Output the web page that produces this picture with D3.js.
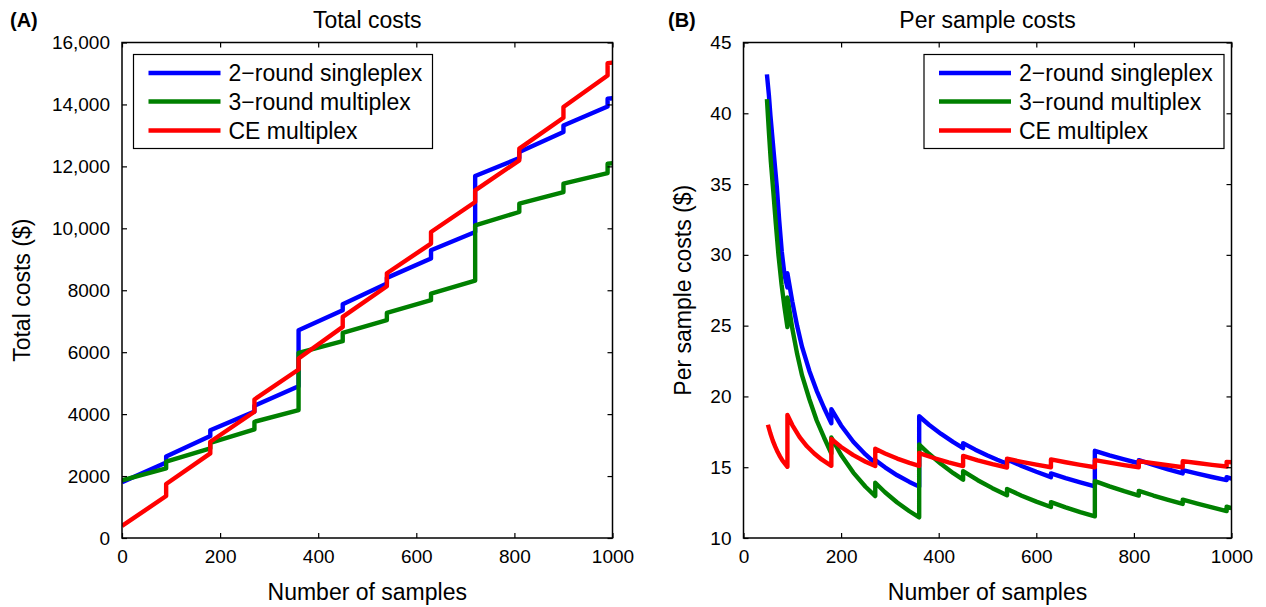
<!DOCTYPE html>
<html>
<head>
<meta charset="utf-8">
<script src="https://cdn.jsdelivr.net/npm/d3@7"></script>
<style>
  html, body { margin: 0; padding: 0; background: #fff; }
  svg text { font-family: "Liberation Sans", Arial, Helvetica, sans-serif; fill: #000; }
</style>
</head>
<body>
<svg id="chart" width="1266" height="607"></svg>
<script>
// ---------------- data ----------------
const sampleTicks = [0, 200, 400, 600, 800, 1000];
const totalTicks = [0, 2000, 4000, 6000, 8000, 10000, 12000, 14000, 16000];
const totalTickLabels = ["0", "2000", "4000", "6000", "8000", "10,000", "12,000", "14,000", "16,000"];
const perSampleTicks = [10, 15, 20, 25, 30, 35, 40, 45];
const perSampleTickLabels = ["10", "15", "20", "25", "30", "35", "40", "45"];

const seriesNames = ["2\u2212round singleplex", "3\u2212round multiplex", "CE multiplex"];
const seriesColors = ["#0000ff", "#008000", "#ff0000"];

// Panel A: total costs ($) vs number of samples
const totalSingleplex2 = [
  [0,1800],[90,2440],[90,2630],[180,3290],[180,3480],[270,4080],[270,4270],[360,4900],
  [360,6710],[450,7355],[450,7548],[540,8220],[540,8400],[630,9023],[630,9290],[720,9881],
  [720,11688],[810,12268],[810,12462],[900,13108],[900,13323],[990,13936],[990,14184],[1000,14200]
];
const totalMultiplex3 = [
  [0,1860],[90,2248],[90,2463],[180,2894],[180,3075],[270,3506],[270,3753],[360,4130],
  [360,5979],[450,6355],[450,6623],[540,7033],[540,7269],[630,7678],[630,7893],[720,8310],
  [720,10097],[810,10527],[810,10797],[900,11172],[900,11442],[990,11785],[990,12088],[1000,12100]
];
const totalCE = [
  [0,390],[90,1355],[90,1742],[180,2732],[180,3108],[270,4075],[270,4474],[360,5441],
  [360,5797],[450,6817],[450,7140],[540,8130],[540,8549],[630,9507],[630,9881],[720,10850],
  [720,11227],[810,12194],[810,12572],[900,13572],[900,13915],[990,14937],[990,15334],[1000,15350]
];

// Panel B: per sample costs ($) vs number of samples
const perSingleplex2 = [
  [48,42.75],[52,41.3],[55.3,39.8],[62,37.2],[68.3,34.8],[73,32.5],[78.5,30.2],[84,28.6],[90,27.7],
  [90,28.7],[100,26.7],[110,24.97],[120,23.5],[135,21.8],[150,20.4],[165,19.2],[180,18.1],
  [180,19.1],[200,17.95],[225,16.8],[250,15.9],[270,15.28],
  [270,15.5],[290,14.99],[315,14.43],[340,13.96],[360,13.63],
  [360,18.6],[380,18.0],[405,17.35],[430,16.77],[450,16.35],
  [450,16.7],[475,16.24],[500,15.83],[520,15.53],[540,15.25],
  [540,15.55],[570,15.09],[600,14.68],[630,14.3],
  [630,14.56],[660,14.23],[690,13.93],[720,13.65],
  [720,16.16],[750,15.84],[780,15.55],[810,15.28],
  [810,15.5],[840,15.16],[870,14.85],[900,14.56],
  [900,14.8],[930,14.55],[960,14.31],[990,14.09],
  [990,14.3],[1000,14.2]
];
const perMultiplex3 = [
  [48,41.0],[52,38.7],[56,36.6],[61,34.5],[66,32.3],[71.6,30.0],[78,27.9],[84,26.3],[90,24.9],
  [90,27.0],[100,24.8],[110,22.99],[120,21.48],[135,19.8],[150,18.3],[165,17.1],[180,15.97],
  [180,17.1],[200,15.86],[225,14.62],[250,13.62],[270,12.96],
  [270,13.9],[290,13.23],[315,12.51],[340,11.89],[360,11.46],
  [360,16.6],[380,15.95],[405,15.22],[430,14.58],[450,14.12],
  [450,14.72],[480,14.08],[510,13.52],[540,13.02],
  [540,13.46],[570,12.99],[600,12.57],[630,12.19],
  [630,12.53],[660,12.16],[690,11.83],[720,11.53],
  [720,14.02],[750,13.65],[780,13.31],[810,13.0],
  [810,13.33],[840,13.0],[870,12.7],[900,12.41],
  [900,12.71],[930,12.43],[960,12.16],[990,11.9],
  [990,12.21],[1000,12.1]
];
const perCE = [
  [50,18.0],[55,17.4],[60,16.88],[65,16.45],[70,16.07],[75,15.75],[80,15.46],[90,15.03],
  [90,18.7],[100,17.98],[115,17.13],[130,16.48],[145,15.97],[160,15.55],[180,15.1],
  [180,17.0],[200,16.43],[225,15.85],[250,15.39],[270,15.08],
  [270,16.3],[290,15.97],[315,15.61],[340,15.31],[360,15.1],
  [360,16.0],[390,15.65],[420,15.34],[450,15.08],
  [450,15.8],[480,15.49],[510,15.22],[540,14.98],
  [540,15.6],[570,15.38],[600,15.18],[630,15.0],
  [630,15.55],[660,15.35],[690,15.17],[720,15.0],
  [720,15.5],[750,15.32],[780,15.15],[810,15.0],
  [810,15.43],[840,15.28],[870,15.14],[900,15.0],
  [900,15.43],[930,15.3],[960,15.17],[990,15.05],
  [990,15.38],[1000,15.35]
];

// ---------------- drawing ----------------
const svg = d3.select("#chart");
svg.append("rect").attr("width", 1266).attr("height", 607).attr("fill", "#fff");

function panel(cfg) {
  const x = d3.scaleLinear().domain([0, 1000]).range([cfg.left, cfg.right]);
  const y = d3.scaleLinear().domain(cfg.yDomain).range([cfg.bottom, cfg.top]);
  const g = svg.append("g");

  const clipId = "clip" + cfg.id;
  svg.append("clipPath").attr("id", clipId).append("rect")
    .attr("x", cfg.left).attr("y", cfg.top)
    .attr("width", cfg.right - cfg.left).attr("height", cfg.bottom - cfg.top);

  const line = d3.line().x(d => x(d[0])).y(d => y(d[1]));
  const lg = g.append("g").attr("clip-path", `url(#${clipId})`);
  cfg.series.forEach((s, i) => {
    lg.append("path").datum(s)
      .attr("d", line)
      .attr("fill", "none")
      .attr("stroke", seriesColors[i])
      .attr("stroke-width", 4.4)
      .attr("stroke-linejoin", "round")
      .attr("stroke-linecap", "butt");
  });

  const tickLen = 5;
  const fmtY = v => cfg.yLabels[cfg.yTicks.indexOf(v)];
  const axB = g.append("g").attr("transform", `translate(0,${cfg.bottom})`)
    .call(d3.axisBottom(x).tickValues(sampleTicks).tickFormat(d3.format("d"))
      .tickSizeInner(-tickLen).tickSizeOuter(0).tickPadding(12));
  const axT = g.append("g").attr("transform", `translate(0,${cfg.top})`)
    .call(d3.axisTop(x).tickValues(sampleTicks).tickFormat("")
      .tickSizeInner(-tickLen).tickSizeOuter(0));
  const axL = g.append("g").attr("transform", `translate(${cfg.left},0)`)
    .call(d3.axisLeft(y).tickValues(cfg.yTicks).tickFormat(fmtY)
      .tickSizeInner(-tickLen).tickSizeOuter(0).tickPadding(12));
  const axR = g.append("g").attr("transform", `translate(${cfg.right},0)`)
    .call(d3.axisRight(y).tickValues(cfg.yTicks).tickFormat("")
      .tickSizeInner(-tickLen).tickSizeOuter(0));
  [axB, axT, axL, axR].forEach(a => {
    a.select(".domain").remove();
    a.selectAll(".tick line").attr("stroke", "#000").attr("stroke-width", 1.2);
    a.selectAll("text").style("font-size", "19px").attr("fill", "#000");
  });
  axB.selectAll("text").attr("dy", "0.71em");

  g.append("rect")
    .attr("x", cfg.left).attr("y", cfg.top)
    .attr("width", cfg.right - cfg.left).attr("height", cfg.bottom - cfg.top)
    .attr("fill", "none").attr("stroke", "#000").attr("stroke-width", 1.5);

  const cx = (cfg.left + cfg.right) / 2;
  g.append("text").attr("x", cx).attr("y", 28).attr("text-anchor", "middle")
    .style("font-size", "23px").text(cfg.title);
  g.append("text").attr("x", cfg.tagX).attr("y", 27)
    .style("font-size", "20px").style("font-weight", "bold").text(cfg.tag);
  g.append("text").attr("x", cx).attr("y", 600).attr("text-anchor", "middle")
    .style("font-size", "23px").text("Number of samples");
  g.append("text")
    .attr("transform", `translate(${cfg.yLabelX},${(cfg.top + cfg.bottom) / 2}) rotate(-90)`)
    .attr("text-anchor", "middle")
    .style("font-size", "23px").text(cfg.yTitle);

  const L = cfg.legend;
  const leg = g.append("g");
  leg.append("rect").attr("x", L.x).attr("y", L.y).attr("width", L.w).attr("height", L.h)
    .attr("fill", "#fff").attr("stroke", "#000").attr("stroke-width", 1.2);
  const rowY = [18.5, 47, 76];
  seriesNames.forEach((name, i) => {
    leg.append("line")
      .attr("x1", L.x + 15).attr("x2", L.x + 87)
      .attr("y1", L.y + rowY[i]).attr("y2", L.y + rowY[i])
      .attr("stroke", seriesColors[i]).attr("stroke-width", 4.5);
    leg.append("text").attr("x", L.x + 95).attr("y", L.y + rowY[i] + 8)
      .style("font-size", "23px").text(name);
  });
}

panel({
  id: "A", left: 122, right: 612.5, top: 42.5, bottom: 538,
  yDomain: [0, 16000], yTicks: totalTicks, yLabels: totalTickLabels,
  series: [totalSingleplex2, totalMultiplex3, totalCE],
  title: "Total costs", tag: "(A)", tagX: 10, yTitle: "Total costs ($)", yLabelX: 30,
  legend: { x: 133.5, y: 54.5, w: 299, h: 94 }
});
panel({
  id: "B", left: 743.5, right: 1231.5, top: 42.5, bottom: 538,
  yDomain: [10, 45], yTicks: perSampleTicks, yLabels: perSampleTickLabels,
  series: [perSingleplex2, perMultiplex3, perCE],
  title: "Per sample costs", tag: "(B)", tagX: 668, yTitle: "Per sample costs ($)", yLabelX: 691,
  legend: { x: 924, y: 54.5, w: 300, h: 94 }
});
</script>
</body>
</html>
